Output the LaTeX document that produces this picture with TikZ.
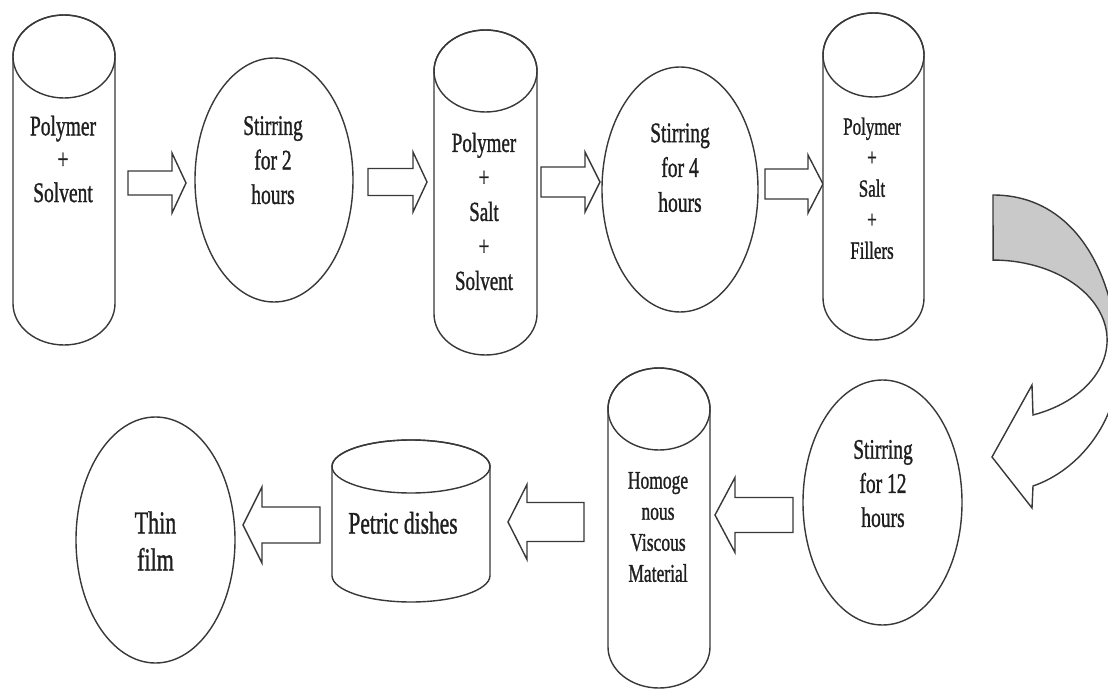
\documentclass[tikz,border=0pt]{standalone}
\usepackage{fontspec}
\setmainfont{Liberation Serif}[FakeBold=1.3]
\usepackage{graphicx}
\usetikzlibrary{shapes.geometric}

\tikzset{
  shapeline/.style={draw=black!78, line width=1.4},
  stirnode/.style={ellipse, shapeline, fill=white, inner sep=0pt},
  blockarrow/.style={shapeline, fill=white, line join=miter},
  lbl/.style={inner sep=0pt, text=black!88},
}

% multi-line centred label, stretched vertically like the condensed lettering
\newcommand\flowtext[3]{\scalebox{1}[1.45]{\fontsize{#1}{#2}\selectfont\begin{tabular}{@{}c@{}}#3\end{tabular}}}

% vertical cylinder: name, centre x, top y, bottom y, x radius, y radius
\newcommand\drawcyl[6]{%
  \draw[shapeline, fill=white] (#2-#5,#3+#6) -- (#2-#5,#4-#6)
    arc[start angle=180, end angle=0, x radius=#5, y radius=#6]
    -- (#2+#5,#3+#6)
    arc[start angle=0, end angle=-180, x radius=#5, y radius=#6] -- cycle;
  \draw[shapeline] (#2,#3+#6) ellipse[x radius=#5, y radius=#6];
  \coordinate (#1) at (#2,{(#3+#4)/2});
}

% block arrow: tail x, head-base x, tip x, centre y, shaft half width, head half width
\newcommand\blockarr[6]{%
  \draw[blockarrow] (#1,#4-#5) -- (#2,#4-#5) -- (#2,#4-#6) -- (#3,#4)
    -- (#2,#4+#6) -- (#2,#4+#5) -- (#1,#4+#5) -- cycle;
}

\begin{document}
\begin{tikzpicture}[x=1pt,y=-1pt]
\useasboundingbox (0,0) rectangle (1108,692);
\fill[white] (0,0) rectangle (1108,692);
\clip (0,0) rectangle (1108,692);

% ---------- first row ----------
\drawcyl{c1}{64}{15}{345}{51}{41.5}
\node[lbl] (t1) at (63,162) {\flowtext{19.5}{23}{Polymer\\+\\Solvent}};

\blockarr{128}{172}{186}{183}{12}{30}

\node[stirnode, minimum width=158, minimum height=244] (e1) at (274,180) {};
\node[lbl] (t2) at (273,162.5) {\flowtext{19.5}{23.8}{Stirring\\for 2\\hours}};

\blockarr{368}{413}{427}{182}{13.5}{30}

\drawcyl{c2}{485.5}{30}{355}{51.5}{41}
\node[lbl] (t3) at (484,214) {\flowtext{19}{23.8}{Polymer\\+\\Salt\\+\\Solvent}};

\blockarr{541}{585}{600}{182}{15}{30}

\node[stirnode, minimum width=156, minimum height=245] (e2) at (680,189.5) {};
\node[lbl] (t4) at (680,170) {\flowtext{19.5}{24}{Stirring\\for 4\\hours}};

\blockarr{765}{808}{823}{184}{15}{29}

\drawcyl{c3}{873.5}{13}{340}{50.5}{42}
\node[lbl] (t5) at (872,190.5) {\flowtext{17}{21.4}{Polymer\\+\\Salt\\+\\Fillers}};

% ---------- curved turn-around arrow ----------
\def\turnpath{(993,195) .. controls (1078,195) and (1118,280) .. (1118,366)
  .. controls (1118,420) and (1080,470) .. (1033,486)
  -- (1032,508) -- (992,457) -- (1032,385) -- (1033,415)
  arc[start angle=429.5, end angle=270, x radius=114, y radius=80] -- cycle}
\fill[white] \turnpath;
\begin{scope}
  \clip (950,150) rectangle (1108,334);
  \fill[gray!42] \turnpath;
\end{scope}
\draw[shapeline, line join=miter] \turnpath;

% ---------- second row ----------
\node[stirnode, minimum width=159, minimum height=245] (e3) at (882.5,502.5) {};
\node[lbl] (t6) at (883,486) {\flowtext{19.5}{23.5}{Stirring\\for 12\\hours}};

\blockarr{793}{735}{715}{515}{17.5}{37.5}

\drawcyl{c4}{659}{368}{688}{51}{41}
\node[lbl] (t7) at (658,529) {\flowtext{17.5}{21.4}{Homoge\\nous\\Viscous\\Material}};

\blockarr{584}{527}{508}{522}{19.5}{37.5}

\drawcyl{c5}{411}{440}{602}{79}{26.5}
\node[lbl] (t8) at (403,526) {\flowtext{21.5}{26}{Petric dishes}};

\blockarr{320}{262}{243}{525}{18}{38}

\node[stirnode, minimum width=159, minimum height=246] (e4) at (155.5,540) {};
\node[lbl] (t9) at (155.5,544.5) {\flowtext{22}{25.5}{Thin\\film}};
\end{tikzpicture}
\end{document}
